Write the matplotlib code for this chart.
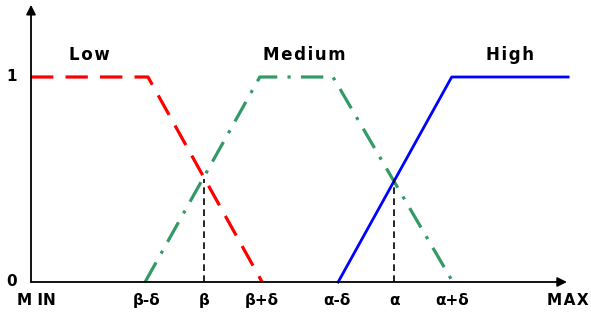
import matplotlib
matplotlib.use('Agg')
import matplotlib.pyplot as plt

# membership function breakpoints (x in units of delta, y = membership)
x_ticks = [0, 2, 3, 4, 5.3, 6.3, 7.3, 9.3]
tick_labels = ['M IN', 'β-δ', 'β', 'β+δ', 'α-δ', 'α', 'α+δ', 'M\u200aA\u200aX']
y_ticks = [0, 1]

low_x = [0, 2.03, 4.01]
low_y = [1, 1, 0]
medium_x = [1.98, 3.97, 5.24, 7.32]
medium_y = [0, 1, 1, 0]
high_x = [5.33, 7.30, 9.32]
high_y = [0, 1, 1]

crossings_x = [3, 6.3]
crossings_y = [0.5, 0.5]

set_names = ['L\u200ao\u200aw', 'M\u200ae\u200ad\u200ai\u200au\u200am', 'H\u200ai\u200ag\u200ah']
set_label_x = [1.02, 4.75, 8.31]

fig = plt.figure(figsize=(5.91, 3.2), dpi=100)
ax = fig.add_axes([0, 0, 1, 1])
ax.set_xlim(-0.538, 9.717)
ax.set_ylim(-0.1854, 1.3756)
ax.axis('off')

# axes with arrow heads
ax.annotate('', xy=(0, 1.352), xytext=(0, 0),
            arrowprops=dict(arrowstyle='-|>', color='black', lw=1.3,
                            mutation_scale=14, shrinkA=0, shrinkB=0))
ax.annotate('', xy=(9.3, 0), xytext=(0, 0),
            arrowprops=dict(arrowstyle='-|>', color='black', lw=1.3,
                            mutation_scale=14, shrinkA=0, shrinkB=0))

# membership functions
ax.plot(low_x, low_y, color='#ff0000', lw=2.3, dashes=(7, 3.8),
        solid_capstyle='butt', dash_capstyle='butt')
ax.plot(medium_x, medium_y, color='#339966', lw=2.3, dashes=(7, 3.2, 1, 3.2),
        dash_capstyle='butt')
ax.plot(high_x, high_y, color='#0000ff', lw=2.0)

# dashed drop lines at crossings
for cx, cy in zip(crossings_x, crossings_y):
    ax.plot([cx, cx], [0, cy], color='black', lw=1.2, dashes=(4, 2.6))

font = dict(fontweight='bold', fontsize=11, family='DejaVu Sans')

tick_texts = []
for x, lab in zip(x_ticks, tick_labels):
    tick_texts.append(ax.text(x, -0.088, lab, ha='center', va='center', **font))
# end labels sit off-centre
tick_texts[0].set_x(0.09)
tick_texts[-1].set_x(9.68)
tick_texts[-1].set_ha('right')

for y in y_ticks:
    ax.text(-0.33, y, str(y), ha='center', va='center', **font)

for x, name in zip(set_label_x, set_names):
    ax.text(x, 1.107, name, ha='center', va='center', fontweight='bold',
            fontsize=12, family='DejaVu Sans')

plt.savefig('out.png', dpi=100)
plt.close()
